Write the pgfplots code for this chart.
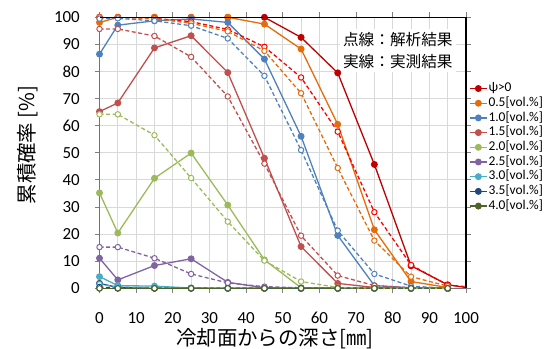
\documentclass[border=0pt]{standalone}
\usepackage{fontspec}
\setmainfont{Carlito}
\newfontfamily\jp{Noto Sans CJK JP}
\usepackage{pgfplots}
\pgfplotsset{compat=1.18}
\definecolor{cpsi}{HTML}{C00000}
\definecolor{cpsid}{HTML}{FF0000}
\definecolor{c05}{HTML}{E46C0A}
\definecolor{c10}{HTML}{4F81BD}
\definecolor{c15}{HTML}{C0504D}
\definecolor{c20}{HTML}{9BBB59}
\definecolor{c25}{HTML}{8064A2}
\definecolor{c30}{HTML}{4BACC6}
\definecolor{c35}{HTML}{1F497D}
\definecolor{c40}{HTML}{4F6228}
\pgfplotsset{
 sol/.style={color=#1, line width=1.3bp, mark=*, mark size=2.8bp, mark options={solid, fill=#1}},
 das/.style={color=#1, line width=1.3bp, dash pattern=on 4bp off 2.5bp, mark=*, mark size=2.7bp, mark options={solid, fill=white, line width=1bp}, forget plot},
 tail/.style={color=#1, line width=1.3bp, no markers, forget plot},
}
\begin{document}
\begin{tikzpicture}
\useasboundingbox (0,0) rectangle (558bp,349bp);
\begin{axis}[
 at={(99.5bp,60.7bp)}, anchor=south west,
 scale only axis, width=366.5bp, height=271bp,
 xmin=0, xmax=100, ymin=0, ymax=100,
 xtick={0,10,...,100}, ytick={0,10,...,100},
 minor xtick={5,15,...,95},
 grid=both,
 major grid style={color=black!15, line width=0.8bp},
 minor grid style={color=black!15, line width=0.8bp},
 axis line style={draw=black!55, line width=1.3bp},
 tick align=outside, major tick length=5bp, minor tick length=0bp,
 tick style={color=black!50, line width=0.8bp},
 /pgf/number format/assume math mode=true,
 ticklabel style={font=\fontsize{17}{20}\selectfont},
 xticklabel style={anchor=center, inner sep=0pt, yshift=-24.7bp},
 yticklabel style={anchor=east, inner sep=0pt, xshift=-14.5bp},
 xlabel={\jp 冷却面からの深さ[㎜]},
 ylabel={\jp 累積確率 [\%]},
 every axis x label/.style={at={(axis description cs:0.479,0)}, yshift=-50bp, anchor=center, font=\fontsize{20.5}{23}\selectfont},
 every axis y label/.style={at={(axis description cs:0,0.529)}, xshift=-71.5bp, rotate=90, anchor=center, font=\fontsize{20.5}{23}\selectfont},
 legend style={at={(axis description cs:1,0.765)}, anchor=north west, draw=none, fill=none,
   font=\fontsize{13.5}{15}\selectfont, row sep=0pt, inner sep=0pt, xshift=3bp,
   nodes={inner sep=1pt, text height=9.5bp, text depth=3.2bp, anchor=west},
   /tikz/every even column/.append style={column sep=1bp}},
 legend cell align=left,
 clip=true,
 after end axis/.code={\draw[black, line width=1.2bp] (rel axis cs:0,1) -- (rel axis cs:1,1) -- (rel axis cs:1,0);},
]
% solid (measured)
\addplot[sol=cpsi] coordinates {(0,100)(5,100)(15,100)(25,100)(35,100)(45,100)(55,92.6)(65,79.5)(75,45.7)(85,8.3)(95,1.3)};
\addlegendentry{ψ>0}
\addplot[sol=c05] coordinates {(0,98.1)(5,100)(15,100)(25,100)(35,100)(45,97.5)(55,88.3)(65,60.5)(75,21.6)(85,2.5)(95,0.3)};
\addlegendentry{0.5[vol.\%]}
\addplot[sol=c10] coordinates {(0,86.4)(5,97.1)(15,98.7)(25,99.4)(35,98.1)(45,84.6)(55,56.1)(65,19.5)(75,1.0)(85,0.2)(95,0)};
\addlegendentry{1.0[vol.\%]}
\addplot[sol=c15] coordinates {(0,65.2)(5,68.4)(15,88.7)(25,93.2)(35,79.6)(45,48.0)(55,15.4)(65,1.8)(75,0.3)(85,0)(95,0)};
\addlegendentry{1.5[vol.\%]}
\addplot[sol=c20] coordinates {(0,35.2)(5,20.4)(15,40.6)(25,49.9)(35,30.7)(45,10.5)(55,0.2)(65,0)(75,0)(85,0)(95,0)};
\addlegendentry{2.0[vol.\%]}
\addplot[sol=c25] coordinates {(0,11.1)(5,3.1)(15,8.4)(25,10.9)(35,2.2)(45,0.2)(55,0)(65,0)(75,0)(85,0)(95,0)};
\addlegendentry{2.5[vol.\%]}
\addplot[sol=c30] coordinates {(0,4.3)(5,1.0)(15,0.8)(25,0.1)(35,0)(45,0)(55,0)(65,0)(75,0)(85,0)(95,0)};
\addlegendentry{3.0[vol.\%]}
\addplot[sol=c35] coordinates {(0,1.8)(5,0.3)(15,0)(25,0)(35,0)(45,0)(55,0)(65,0)(75,0)(85,0)(95,0)};
\addlegendentry{3.5[vol.\%]}
\addplot[sol=c40] coordinates {(0,0)(5,0)(15,0)(25,0)(35,0)(45,0)(55,0)(65,0)(75,0)(85,0)(95,0)};
\addlegendentry{4.0[vol.\%]}
% tails to the right edge
\addplot[tail=cpsi] coordinates {(95,1.3)(100,0.3)};
\addplot[tail=cpsid, dash pattern=on 4bp off 2.5bp] coordinates {(95,1.2)(100,0.6)};
% dashed (analysis)
\addplot[das=cpsid] coordinates {(0,100)(5,100)(15,99.6)(25,98.4)(35,95.5)(45,89.1)(55,77.8)(65,57.8)(75,28.1)(85,8.6)(95,1.2)};
\addplot[das=c05] coordinates {(0,100)(5,100)(15,99.5)(25,97.8)(35,94.8)(45,87.6)(55,72.0)(65,44.4)(75,17.6)(85,4.3)(95,0.8)};
\addplot[das=c10] coordinates {(0,99.5)(5,99.6)(15,98.7)(25,96.9)(35,92.2)(45,78.4)(55,51.0)(65,21.3)(75,5.3)(85,0.8)(95,0)};
\addplot[das=c15] coordinates {(0,95.7)(5,95.7)(15,93.1)(25,85.4)(35,70.8)(45,46.0)(55,19.4)(65,4.7)(75,1.0)(85,0.2)(95,0)};
\addplot[das=c20] coordinates {(0,64.2)(5,64.2)(15,56.5)(25,40.7)(35,24.6)(45,10.2)(55,2.5)(65,0.3)(75,0)(85,0)(95,0)};
\addplot[das=c25] coordinates {(0,15.2)(5,15.2)(15,11.1)(25,5.3)(35,2.0)(45,0.6)(55,0.2)(65,0)(75,0)(85,0)(95,0)};
\addplot[das=c30] coordinates {(0,1.5)(5,0.5)(15,0.3)(25,0.1)(35,0)(45,0)(55,0)(65,0)(75,0)(85,0)(95,0)};
\addplot[das=c35] coordinates {(0,0.5)(5,0)(15,0)(25,0)(35,0)(45,0)(55,0)(65,0)(75,0)(85,0)(95,0)};
\addplot[das=c40] coordinates {(0,0)(5,0)(15,0)(25,0)(35,0)(45,0)(55,0)(65,0)(75,0)(85,0)(95,0)};
\node[fill=white, inner sep=3bp, align=left, font=\jp\fontsize{15.7}{22}\selectfont] at (axis cs:81.4,87.7) {点線：解析結果\\実線：実測結果};
\end{axis}
\end{tikzpicture}
\end{document}
